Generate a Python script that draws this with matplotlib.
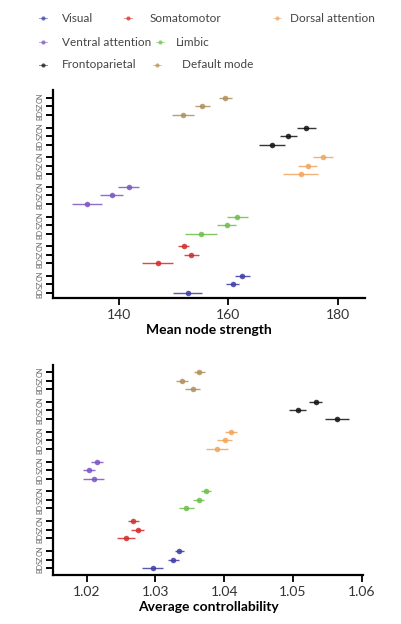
import matplotlib
matplotlib.use("Agg")
import matplotlib.pyplot as plt
from matplotlib.lines import Line2D
import numpy as np

plt.rcParams['font.family'] = ['Lato', 'DejaVu Sans']

# Networks listed top-to-bottom as drawn
networks = ["Default mode", "Frontoparietal", "Dorsal attention", "Ventral attention",
            "Limbic", "Somatomotor", "Visual"]
colors = ["#b0905a", "#111111", "#f2a45a", "#7a55c0", "#6cbf4a", "#d42a2a", "#3c3ca6"]
groups = ["CN", "SZ", "BD"]

# Mean node strength (per network: CN, SZ, BD)
strength = [
    [159.5, 155.3, 151.7],
    [174.3, 171.0, 168.0],
    [177.3, 174.5, 173.3],
    [141.8, 138.7, 134.2],
    [161.7, 159.7, 155.0],
    [151.9, 153.3, 147.1],
    [162.6, 160.8, 152.6],
]
strength_err = [
    [1.2, 1.4, 2.0],
    [1.8, 1.5, 2.4],
    [1.8, 1.8, 3.2],
    [2.0, 2.1, 2.7],
    [2.0, 1.7, 2.9],
    [1.0, 1.4, 2.9],
    [1.4, 1.2, 2.6],
]

# Average controllability
control = [
    [1.0364, 1.0339, 1.0354],
    [1.0533, 1.0507, 1.0564],
    [1.0410, 1.0401, 1.0389],
    [1.0215, 1.0203, 1.0210],
    [1.0374, 1.0363, 1.0345],
    [1.0268, 1.0274, 1.0257],
    [1.0335, 1.0326, 1.0296],
]
control_err = [
    [0.0008, 0.0009, 0.0011],
    [0.0010, 0.0012, 0.0017],
    [0.0009, 0.0011, 0.0016],
    [0.0009, 0.0009, 0.0015],
    [0.0007, 0.0008, 0.0011],
    [0.0008, 0.0009, 0.0013],
    [0.0007, 0.0008, 0.0015],
]

strength_ticks = [140, 160, 180]
control_ticks = [1.02, 1.03, 1.04, 1.05, 1.06]

W, H = 401, 624
fig = plt.figure(figsize=(W / 100, H / 100), dpi=100)

def fx(px):
    return px / W

def fy(py):
    return 1 - py / H

gap = 3.5
ypos = [[-(g * gap + k) for k in range(3)] for g in range(len(networks))]


def panel(rect, vals, errs, xlim, xticks, xlabel, ylim, ticklabels_fmt):
    ax = fig.add_axes(rect)
    for g in range(len(networks)):
        ax.errorbar(vals[g], ypos[g], xerr=errs[g], fmt='o', color=colors[g],
                    ecolor=colors[g], elinewidth=1.0, capsize=1.5, capthick=0.8,
                    markersize=4, markeredgewidth=0, alpha=0.85)
    ax.set_xlim(*xlim)
    ax.set_ylim(*ylim)
    ax.set_xticks(xticks)
    ax.set_xticklabels([ticklabels_fmt(t) for t in xticks], fontsize=10, color="#333333")
    flat_y = [y for row in ypos for y in row]
    flat_lab = [groups[k] for g in range(len(networks)) for k in range(3)]
    ax.set_yticks(flat_y)
    ax.set_yticklabels(flat_lab, rotation=90, fontsize=5.2, color="#666666", va="center")
    ax.tick_params(axis='y', length=5, width=1.4, pad=2)
    ax.tick_params(axis='x', length=5, width=1.3, pad=3)
    for s in ["top", "right"]:
        ax.spines[s].set_visible(False)
    for s in ["left", "bottom"]:
        ax.spines[s].set_linewidth(1.6)
    ax.set_xlabel(xlabel, fontsize=10, fontweight='bold', labelpad=2)
    return ax

ax1 = panel([fx(53), fy(298), fx(365) - fx(53), fy(90) - fy(298)],
            strength, strength_err, (128, 185), strength_ticks, "Mean node strength",
            (-23.6, 0.94), lambda t: f"{t:d}")
ax2 = panel([fx(53), fy(575), fx(363) - fx(53), fy(365) - fy(575)],
            control, control_err, (1.0151, 1.0602), control_ticks, "Average controllability",
            (-23.8, 0.82), lambda t: f"{t:.2f}")

# Legend (manual layout in three rows)
legend_items = [
    ("Visual", 6, 43, 18, 62),
    ("Somatomotor", 5, 128, 18, 150),
    ("Dorsal attention", 2, 277, 18, 290),
    ("Ventral attention", 3, 43, 42, 62),
    ("Limbic", 4, 160, 42, 176),
    ("Frontoparietal", 1, 43, 65, 62),
    ("Default mode", 0, 157, 65, 182),
]
for name, ci, mx, my, tx in legend_items:
    fig.add_artist(Line2D([fx(mx - 4), fx(mx + 4)], [fy(my), fy(my)], color=colors[ci],
                          lw=0.7, alpha=0.5))
    fig.add_artist(Line2D([fx(mx)], [fy(my)], marker='o', markersize=3, color=colors[ci],
                          markeredgewidth=0, alpha=0.75))
    fig.text(fx(tx), fy(my), name, fontsize=8.5, color="#444444", va="center", ha="left")

fig.savefig("out.png", dpi=100)
